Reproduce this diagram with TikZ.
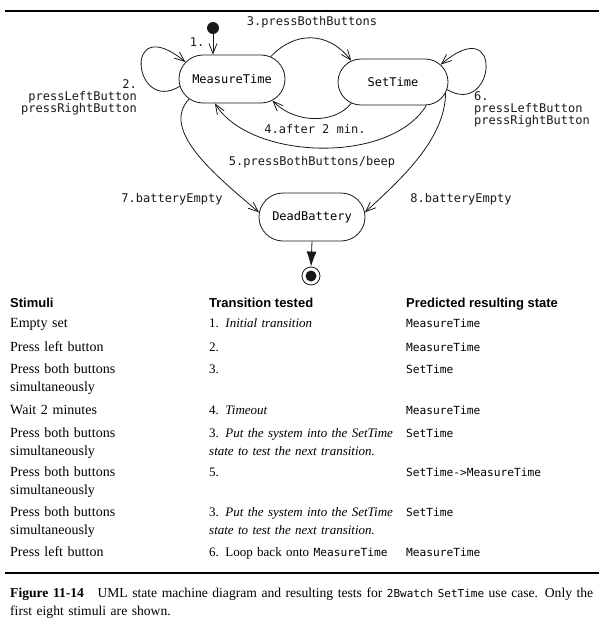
\documentclass[tikz,border=0pt]{standalone}
\usepackage{fontspec}
\setmainfont{Liberation Serif}
\setsansfont{Liberation Sans}
\setmonofont{DejaVu Sans Mono}
\usepackage{xcolor}
\usepackage{tikz}
\usetikzlibrary{positioning,calc,shapes.misc,arrows.meta}
\definecolor{UMLBlack}{RGB}{25,25,25}
\newcommand{\umlfont}{\fontsize{12}{12}\selectfont\ttfamily}
\newcommand{\tabmono}{\fontsize{11.2}{18}\selectfont\ttfamily}
\newcommand{\tabfont}{\fontsize{14}{18}\selectfont\hyphenpenalty10000\relax}
\newcommand{\testfont}{\fontsize{13}{18}\selectfont\hyphenpenalty10000\relax}
\newcommand{\capfont}{\fontsize{13.6}{18.5}\selectfont}
\tikzset{
    statenode/.style={rounded rectangle, draw=UMLBlack, fill=white, line width=0.8pt, minimum width=106pt, minimum height=48pt, inner sep=0pt, font=\umlfont},
    trans/.style={draw=UMLBlack, line width=0.8pt, -{Straight Barb[length=10pt,width=8pt]}},
    umllabel/.style={font=\umlfont, inner sep=0pt, text=UMLBlack}
}

\begin{document}
\begin{tikzpicture}[
        x=1pt, y=-1pt,
        % Style for the table header
        headcell/.style={
            anchor=base west,
            inner sep=0pt,
            font=\sffamily\bfseries\fontsize{13}{15}\selectfont
        },
        % Style for the table cells
        cell/.style={
            anchor=base west,
            inner sep=0pt,
            text width=195pt,
            align=left,
            font=\tabfont
        },
        monocell/.style={
            anchor=base west,
            inner sep=0pt,
            font=\tabmono
        },
        % Thick rules of the figure
        rule/.style={draw=black, line width=2.6pt}
    ]

        \useasboundingbox (0,0) rectangle (599,624);
        \draw[rule] (5,11) -- (599,11);

        % --- STATES ---
        \node[circle, fill=UMLBlack, minimum size=12pt, inner sep=0pt] (init) at (213,28) {};
        \node[statenode] (MT) at (232,79) {MeasureTime};
        \node[statenode, minimum width=110pt, minimum height=46pt] (ST) at (393,82) {SetTime};
        \node[statenode] (DB) at (312,217) {DeadBattery};
        \node[circle, draw=UMLBlack, line width=0.8pt, fill=white, minimum size=18pt, inner sep=0pt] (fin) at (311,276) {};
        \node[circle, fill=UMLBlack, minimum size=11pt, inner sep=0pt] (finDot) at (fin.center) {};

        % --- TRANSITIONS ---
        \draw[trans] (init) -- (init |- MT.north);
        \draw[trans] (MT.188) .. controls (133,115) and (122,10) .. (MT.160); % loop 2
        \draw[trans] (MT.30) .. controls (295,31) and (328,31) .. (ST.153);
        \draw[trans] (ST.-153) .. controls (335,124) and (295,124) .. (MT.-28);
        \draw[trans] (ST.-35) .. controls (390,165) and (250,160) .. (MT.-125);
        \draw[trans] (ST.-8) .. controls (495,118) and (505,10) .. (ST.20); % loop 6
        \draw[trans] (MT.205) .. controls (160,130) and (215,175) .. (DB.175);
        \draw[trans] (ST.-12) .. controls (445,140) and (400,180) .. (DB.5);
        \draw[draw=UMLBlack, line width=0.8pt, -{Latex[length=15pt,width=10pt]}] (DB.south) -- (fin.north);

        % --- LABELS ---
        \node[umllabel] (l1) at (197,42) {1.};
        \node[umllabel, align=right, anchor=east] (l2) at (137,97) {2.\\pressLeftButton\\pressRightButton};
        \node[umllabel] (l3) at (312,22) {3.pressBothButtons};
        \node[umllabel] (l4) at (315,129) {4.after 2 min.};
        \node[umllabel] (l5) at (312,162) {5.pressBothButtons/beep};
        \node[umllabel, align=left, anchor=west] (l6) at (474,109) {6.\\pressLeftButton\\pressRightButton};
        \node[umllabel] (l7) at (172,199) {7.batteryEmpty};
        \node[umllabel] (l8) at (461,199) {8.batteryEmpty};

        % --- TABLE OF TESTS ---
        \node[headcell] (hStim) at (10,307) {Stimuli};
        \node[headcell] (hTest) at (209,307) {Transition tested};
        \node[headcell] (hRes) at (406,307) {Predicted resulting state};

        \foreach \y/\stim/\tested/\result [count=\r] in {
            327/{Empty set}/{1. \textit{Initial transition}}/MeasureTime,
            351/{Press left button}/{2.}/MeasureTime,
            373/{Press both buttons\\simultaneously}/{3.}/SetTime,
            414/{Wait 2 minutes}/{4. \textit{Timeout}}/MeasureTime,
            437/{Press both buttons\\simultaneously}/{3. \textit{Put the system into the SetTime}\\\textit{state to test the next transition.}}/SetTime,
            476/{Press both buttons\\simultaneously}/{5.}/SetTime->MeasureTime,
            516/{Press both buttons\\simultaneously}/{3. \textit{Put the system into the SetTime}\\\textit{state to test the next transition.}}/SetTime,
            556/{Press left button}/{6. Loop back onto {\tabmono MeasureTime}}/MeasureTime} {
            \node[cell] (stim\r) at (10,\y) {\stim};
            \node[cell, font=\testfont] (test\r) at (209,\y) {\tested};
            \node[monocell] (res\r) at (406,\y) {\result};
        }

        % --- CAPTION ---
        \draw[rule] (5,573) -- (599,573);
        \node[cell, text width=600pt, font=\capfont] (caption) at (10,597) {\textbf{Figure 11-14}\quad UML state machine diagram and resulting tests for {\fontsize{11}{18}\selectfont\ttfamily 2Bwatch SetTime} use case. Only the\\first eight stimuli are shown.};

    \end{tikzpicture}
\end{document}
